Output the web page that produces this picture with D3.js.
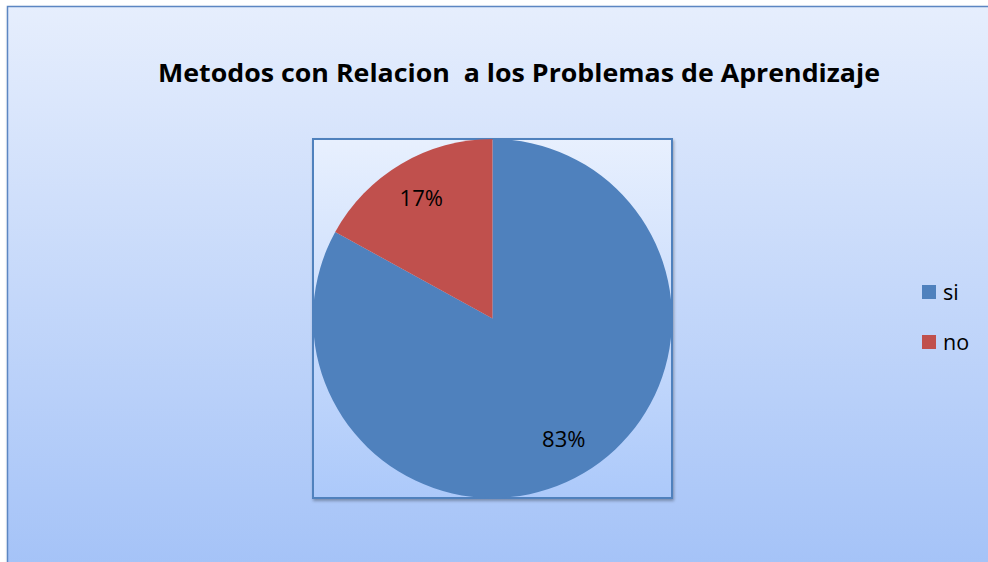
<!DOCTYPE html>
<html>
<head>
<meta charset="utf-8">
<script src="https://cdn.jsdelivr.net/npm/d3@7"></script>
<style>
  html, body { margin: 0; padding: 0; background: #fff; }
  svg { display: block; }
</style>
</head>
<body>
<div id="chart"></div>
<script>
const title = 'Metodos con Relacion  a los Problemas de Aprendizaje';
const categories = ['si', 'no'];
const values = [83, 17];
const labels = ['83%', '17%'];
const colors = ['#4f81bd', '#c0504d'];

const W = 988, H = 562;

const svg = d3.select('#chart')
  .append('svg')
  .attr('width', W)
  .attr('height', H);

const defs = svg.append('defs');

// background gradients
const outerGrad = defs.append('linearGradient')
  .attr('id', 'outerGrad')
  .attr('x1', 0).attr('y1', 0).attr('x2', 0).attr('y2', 1);
outerGrad.append('stop').attr('offset', '0%').attr('stop-color', '#e6eefd');
outerGrad.append('stop').attr('offset', '100%').attr('stop-color', '#a2c1f7');

const plotGrad = defs.append('linearGradient')
  .attr('id', 'plotGrad')
  .attr('x1', 0).attr('y1', 0).attr('x2', 0).attr('y2', 1);
plotGrad.append('stop').attr('offset', '0%').attr('stop-color', '#e8f0fe');
plotGrad.append('stop').attr('offset', '100%').attr('stop-color', '#acc9fa');

const shadow = defs.append('filter').attr('id', 'shadow')
  .attr('x', '-5%').attr('y', '-5%').attr('width', '110%').attr('height', '110%');
shadow.append('feDropShadow')
  .attr('dx', 1).attr('dy', 2).attr('stdDeviation', 1.5)
  .attr('flood-color', '#000').attr('flood-opacity', 0.3);

// outer chart area
svg.append('rect')
  .attr('x', 7.5).attr('y', 6.5)
  .attr('width', W + 20).attr('height', H + 20)
  .attr('fill', 'url(#outerGrad)')
  .attr('stroke', '#5b86c2')
  .attr('stroke-width', 1.5)
  .attr('filter', 'url(#shadow)');

// title (Calibri-like narrow look: squeeze to the reference width)
svg.append('text')
  .attr('x', 158)
  .attr('y', 82)
  .attr('textLength', 722)
  .attr('lengthAdjust', 'spacingAndGlyphs')
  .style('font-family', '"Open Sans", sans-serif')
  .style('font-weight', 'bold')
  .style('font-size', '25px')
  .style('white-space', 'pre')
  .attr('fill', '#000')
  .text(title);

// plot area
const plot = { x: 313, y: 139, w: 359, h: 359 };
svg.append('rect')
  .attr('x', plot.x).attr('y', plot.y)
  .attr('width', plot.w).attr('height', plot.h)
  .attr('fill', 'url(#plotGrad)')
  .attr('stroke', '#4f81bd')
  .attr('stroke-width', 2)
  .attr('filter', 'url(#shadow)');

const cx = plot.x + plot.w / 2;
const cy = plot.y + plot.h / 2;
const radius = plot.w / 2;

const pie = d3.pie().sort(null).value((d) => d);
const arcs = pie(values);

const arc = d3.arc().innerRadius(0).outerRadius(radius);
const labelArc = d3.arc().innerRadius(140).outerRadius(140);

const g = svg.append('g').attr('transform', `translate(${cx},${cy})`);

g.selectAll('path')
  .data(arcs)
  .enter()
  .append('path')
  .attr('d', arc)
  .attr('fill', (d, i) => colors[i]);

g.selectAll('text.lbl')
  .data(arcs)
  .enter()
  .append('text')
  .attr('class', 'lbl')
  .attr('transform', (d) => `translate(${labelArc.centroid(d)})`)
  .attr('text-anchor', 'middle')
  .attr('dy', '0.35em')
  .style('font-family', '"Open Sans", sans-serif')
  .style('font-size', '22px')
  .attr('fill', '#000')
  .text((d, i) => labels[i]);

// legend
const legend = svg.append('g').attr('transform', 'translate(922,285)');
categories.forEach((cat, i) => {
  legend.append('rect')
    .attr('x', 0)
    .attr('y', i * 50)
    .attr('width', 14)
    .attr('height', 14)
    .attr('fill', colors[i]);
  legend.append('text')
    .attr('x', 21)
    .attr('y', i * 50 + 7)
    .attr('dy', '0.35em')
    .style('font-family', '"Open Sans", sans-serif')
    .style('font-size', '21.5px')
    .attr('fill', '#000')
    .text(cat);
});
</script>
</body>
</html>
